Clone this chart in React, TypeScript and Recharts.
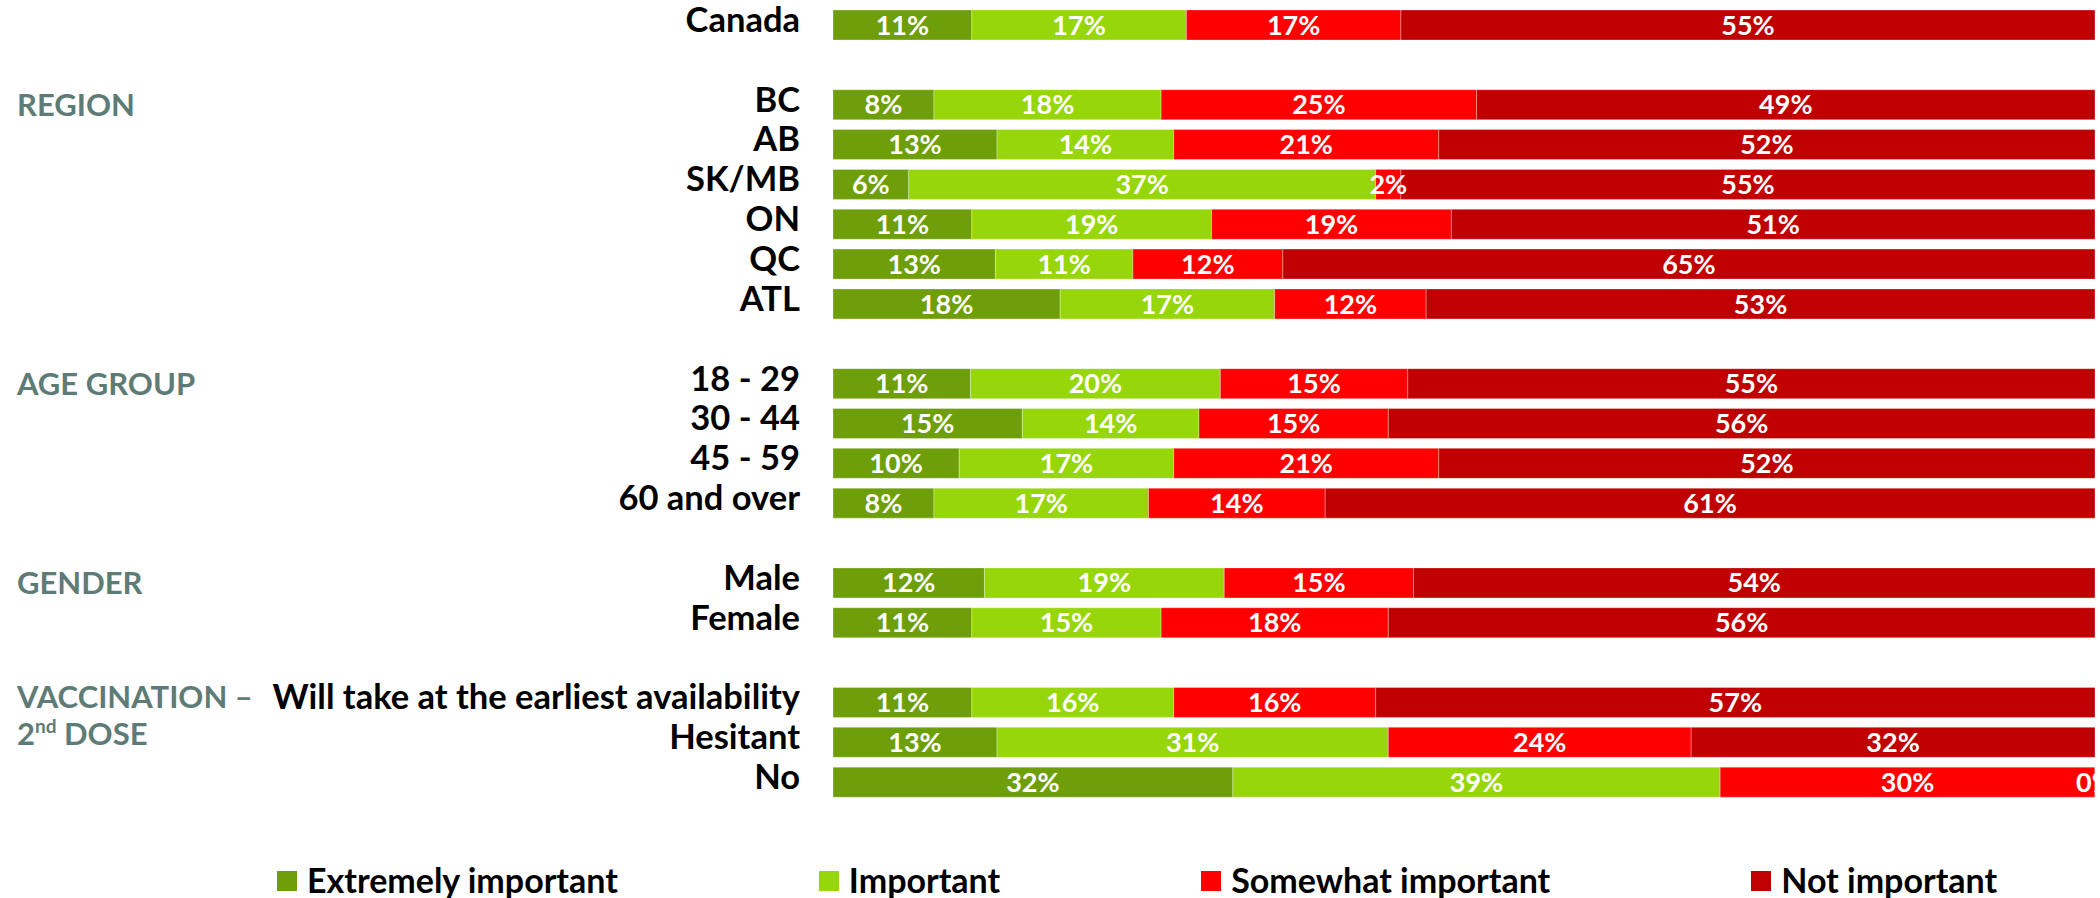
import React from "react";
import { Bar, BarChart, LabelList, XAxis, YAxis } from "recharts";

// rows (blank strings are spacer rows between groups)
const categories = [
  "Canada",
  "",
  "BC",
  "AB",
  "SK/MB",
  "ON",
  "QC",
  "ATL",
  "",
  "18 - 29",
  "30 - 44",
  "45 - 59",
  "60 and over",
  "",
  "Male",
  "Female",
  "",
  "Will take at the earliest availability",
  "Hesitant",
  "No",
];

// group headings shown on the left, "|" splits lines
const groups = [
  "", "", "REGION", "", "", "", "", "", "", "AGE GROUP", "", "", "", "",
  "GENDER", "", "", "VACCINATION –|2nd DOSE", "", "",
];

const extremelyImportant = [11, null, 8, 13, 6, 11, 13, 18, null, 11, 15, 10, 8, null, 12, 11, null, 11, 13, 32];
const important = [17, null, 18, 14, 37, 19, 11, 17, null, 20, 14, 17, 17, null, 19, 15, null, 16, 31, 39];
const somewhatImportant = [17, null, 25, 21, 2, 19, 12, 12, null, 15, 15, 21, 14, null, 15, 18, null, 16, 24, 30];
const notImportant = [55, null, 49, 52, 55, 51, 65, 53, null, 55, 56, 52, 61, null, 54, 56, null, 57, 32, 0];

const seriesNames = ["Extremely important", "Important", "Somewhat important", "Not important"];
const seriesColors = ["#6E9E0A", "#97D60B", "#FF0000", "#C00000"];
const seriesValues = [extremelyImportant, important, somewhatImportant, notImportant];

const FONT = "Lato, 'Open Sans', sans-serif";

// each row stretched to 100 (rounded survey figures do not always add up);
// a zero keeps a hairline segment so its "0%" label is still drawn
const data = categories.map((label, i) => {
  const raw = seriesValues.map((s) => s[i]);
  const total = raw.reduce((sum, v) => sum + (v ?? 0), 0);
  const row: Record<string, any> = { id: String(i) };
  raw.forEach((v, k) => {
    row[`s${k}`] = v == null ? null : v === 0 ? 1e-6 : (v / total) * 100;
    row[`raw${k}`] = v;
  });
  return row;
});

const renderLine = (line: string) => {
  const m = line.match(/^(\d+)(st|nd|rd|th)(.*)$/);
  if (!m) return line;
  return (
    <>
      <tspan>{m[1]}</tspan>
      <tspan fontSize={19} dy={-12}>
        {m[2]}
      </tspan>
      <tspan dy={12}>{m[3]}</tspan>
    </>
  );
};

const CategoryTick = ({ x, y, payload }: any) => {
  const i = Number(payload.value);
  const label = categories[i];
  const group = groups[i];
  const lines = group ? group.split("|") : [];
  return (
    <g>
      {label && (
        <text
          x={x}
          y={y}
          dy={7}
          textAnchor="end"
          fontFamily={FONT}
          fontWeight={700}
          fontSize={34.5}
          fill="#000"
        >
          {label}
        </text>
      )}
      {lines.map((line, k) => (
        <text
          key={k}
          x={17}
          y={y}
          dy={(lines.length > 1 ? 6 : 11) + k * 37}
          textAnchor="start"
          fontFamily={FONT}
          fontWeight={700}
          fontSize={31}
          fill="#5E7B76"
        >
          {renderLine(line)}
        </text>
      ))}
    </g>
  );
};

const pct = (v: any) => (v == null ? "" : `${v}%`);

export default function App() {
  return (
    <div style={{ position: "absolute", left: 0, top: 0, width: 2100, height: 898, background: "#fff" }}>
      <BarChart
        width={2100}
        height={898}
        data={data}
        layout="vertical"
        margin={{ top: 5, right: 5, bottom: 96, left: 0 }}
        barSize={30}
      >
        <XAxis type="number" domain={[0, 100]} hide />
        <YAxis
          type="category"
          dataKey="id"
          width={833}
          axisLine={false}
          tickLine={false}
          tickSize={0}
          tickMargin={33}
          interval={0}
          tick={<CategoryTick />}
        />
        {seriesNames.map((name, k) => (
          <Bar
            key={name}
            dataKey={`s${k}`}
            name={name}
            stackId="a"
            fill={seriesColors[k]}
            stroke="#ffffff"
            strokeOpacity={0.3}
            strokeWidth={1}
            isAnimationActive={false}
          >
            <LabelList
              dataKey={`raw${k}`}
              position="center"
              formatter={pct}
              fill="#fff"
              fontFamily={FONT}
              fontWeight={700}
              fontSize={27}
            />
          </Bar>
        ))}
      </BarChart>
      <div
        style={{
          position: "absolute",
          left: 277,
          top: 862,
          display: "flex",
          gap: 201,
          fontFamily: FONT,
          fontWeight: 700,
          fontSize: 34,
          color: "#000",
          whiteSpace: "nowrap",
        }}
      >
        {seriesNames.map((name, k) => (
          <div key={name} style={{ display: "flex", alignItems: "flex-end", lineHeight: "36px" }}>
            <span
              style={{
                display: "inline-block",
                width: 20,
                height: 20,
                background: seriesColors[k],
                marginRight: 10,
                marginBottom: 7,
              }}
            />
            <span>{name}</span>
          </div>
        ))}
      </div>
    </div>
  );
}
